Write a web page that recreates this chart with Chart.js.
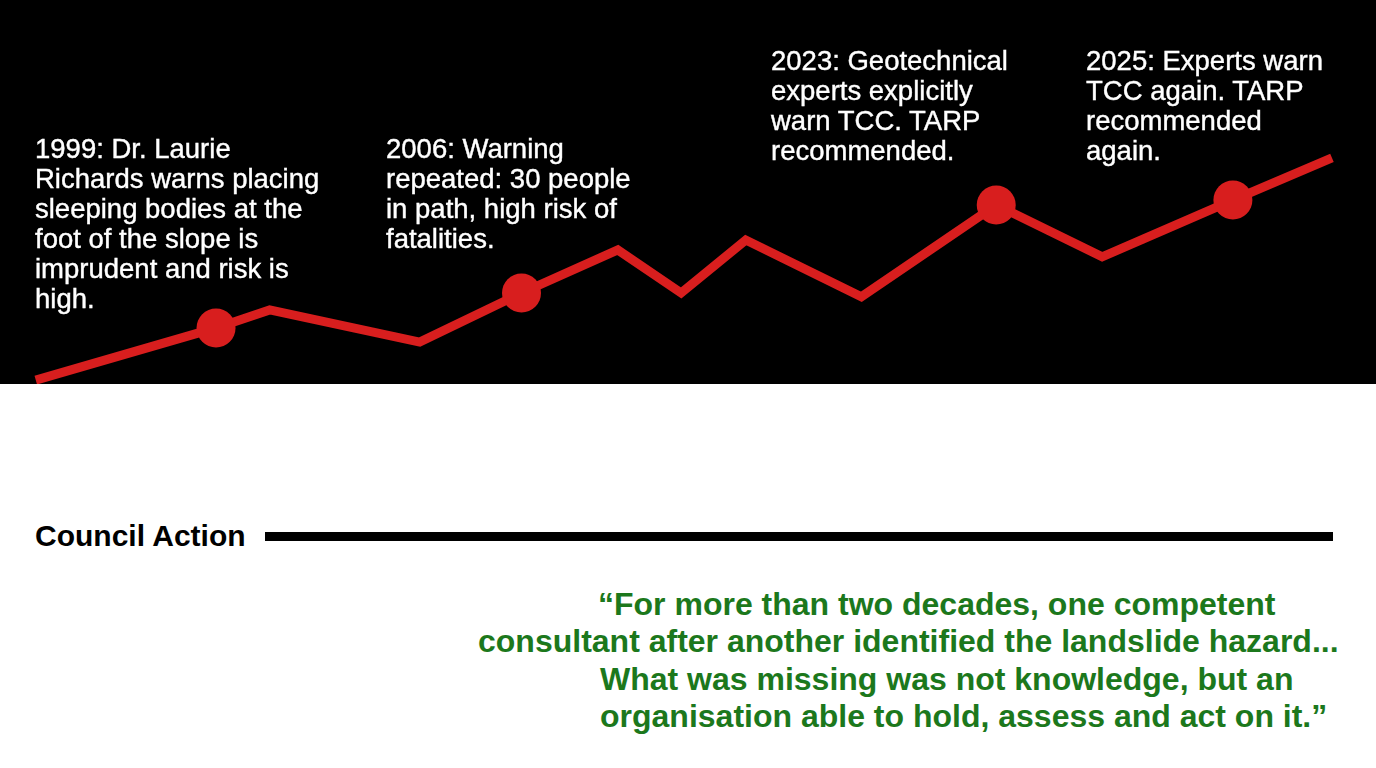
<!DOCTYPE html>
<html>
<head>
<meta charset="utf-8">
<script src="https://cdn.jsdelivr.net/npm/chart.js@4.4.1/dist/chart.umd.min.js"></script>
<style>
  html, body { margin: 0; padding: 0; background: #fff; overflow: hidden; }
  body { width: 1376px; height: 768px; position: relative; font-family: "Liberation Sans", Arial, Helvetica, sans-serif; }
  #band { position: absolute; left: 0; top: 0; width: 1376px; height: 384px; background: #000; }
  .note { position: absolute; color: #fff; font-size: 27.5px; line-height: 30px; white-space: nowrap; -webkit-text-stroke: 0.4px #fff; }
  #council { position: absolute; left: 35px; top: 521px; font-size: 30px; line-height: 30px; font-weight: bold; color: #000; }
  #councilLine { position: absolute; left: 265px; top: 532px; width: 1068px; height: 9px; background: #000; }
  .quote { position: absolute; color: #1c781c; font-size: 32px; line-height: 37px; font-weight: bold; white-space: nowrap; }
</style>
</head>
<body>
<div id="band">
  <canvas id="chart"></canvas>
</div>
<div id="notes"></div>
<div id="council">Council Action</div>
<div id="councilLine"></div>
<div id="quote"></div>

<script>
// timeline position (0-100 across the page) and warning level (0-100 up the band)
const timeline = [2.6, 15.7, 19.6, 30.5, 37.9, 44.9, 49.5, 54.2, 62.6, 72.4, 80.1, 89.6, 96.8];
const warningLevel = [1.0, 14.6, 19.3, 10.9, 23.7, 34.9, 23.7, 37.5, 22.7, 46.6, 33.1, 47.9, 58.9];
const events = [null, '1999', null, null, '2006', null, null, null, null, '2023', null, '2025', null];

const noteLines = [
    ['1999: Dr. Laurie', 'Richards warns placing', 'sleeping bodies at the', 'foot of the slope is', 'imprudent and risk is', 'high.'],
    ['2006: Warning', 'repeated: 30 people', 'in path, high risk of', 'fatalities.'],
    ['2023: Geotechnical', 'experts explicitly', 'warn TCC. TARP', 'recommended.'],
    ['2025: Experts warn', 'TCC again. TARP', 'recommended', 'again.']
];
const quoteLines = [
    '\u201cFor more than two decades, one competent',
    'consultant after another identified the landslide hazard...',
    'What was missing was not knowledge, but an',
    'organisation able to hold, assess and act on it.\u201d'
];

// where the text blocks sit
const notePos = [[35, 134], [386, 134], [771, 46], [1086, 46]];
const quoteLeft = [598, 478, 600, 600];
const quoteTop = 586;

const notesBox = document.querySelector('#notes');
noteLines.forEach((lines, i) => {
    const el = document.createElement('div');
    el.className = 'note';
    el.style.left = notePos[i][0] + 'px';
    el.style.top = notePos[i][1] + 'px';
    el.innerHTML = lines.join('<br>');
    notesBox.appendChild(el);
});

const quoteBox = document.querySelector('#quote');
quoteLines.forEach((line, i) => {
    const el = document.createElement('div');
    el.className = 'quote';
    el.style.left = quoteLeft[i] + 'px';
    el.style.top = (quoteTop + i * 37.3) + 'px';
    el.textContent = line;
    quoteBox.appendChild(el);
});

const red = '#d81e1e';
const ctx = document.querySelector('#chart').getContext('2d');

new Chart(ctx, {
    type: 'line',
    data: {
        datasets: [{
            label: 'Warnings',
            data: timeline.map((x, i) => ({ x: x, y: warningLevel[i] })),
            borderColor: red,
            backgroundColor: red,
            borderWidth: 9,
            tension: 0,
            borderJoinStyle: 'miter',
            pointRadius: (c) => events[c.dataIndex] ? 19.5 : 0,
            pointHoverRadius: (c) => events[c.dataIndex] ? 19.5 : 0,
            pointBorderWidth: 0,
            pointBackgroundColor: red,
            clip: false
        }]
    },
    options: {
        responsive: true,
        maintainAspectRatio: false,
        animation: false,
        events: [],
        layout: { padding: 0 },
        plugins: {
            legend: { display: false },
            tooltip: { enabled: false }
        },
        scales: {
            x: { type: 'linear', min: 0, max: 100, display: false },
            y: { type: 'linear', min: 0, max: 100, display: false }
        }
    }
});
</script>
</body>
</html>
